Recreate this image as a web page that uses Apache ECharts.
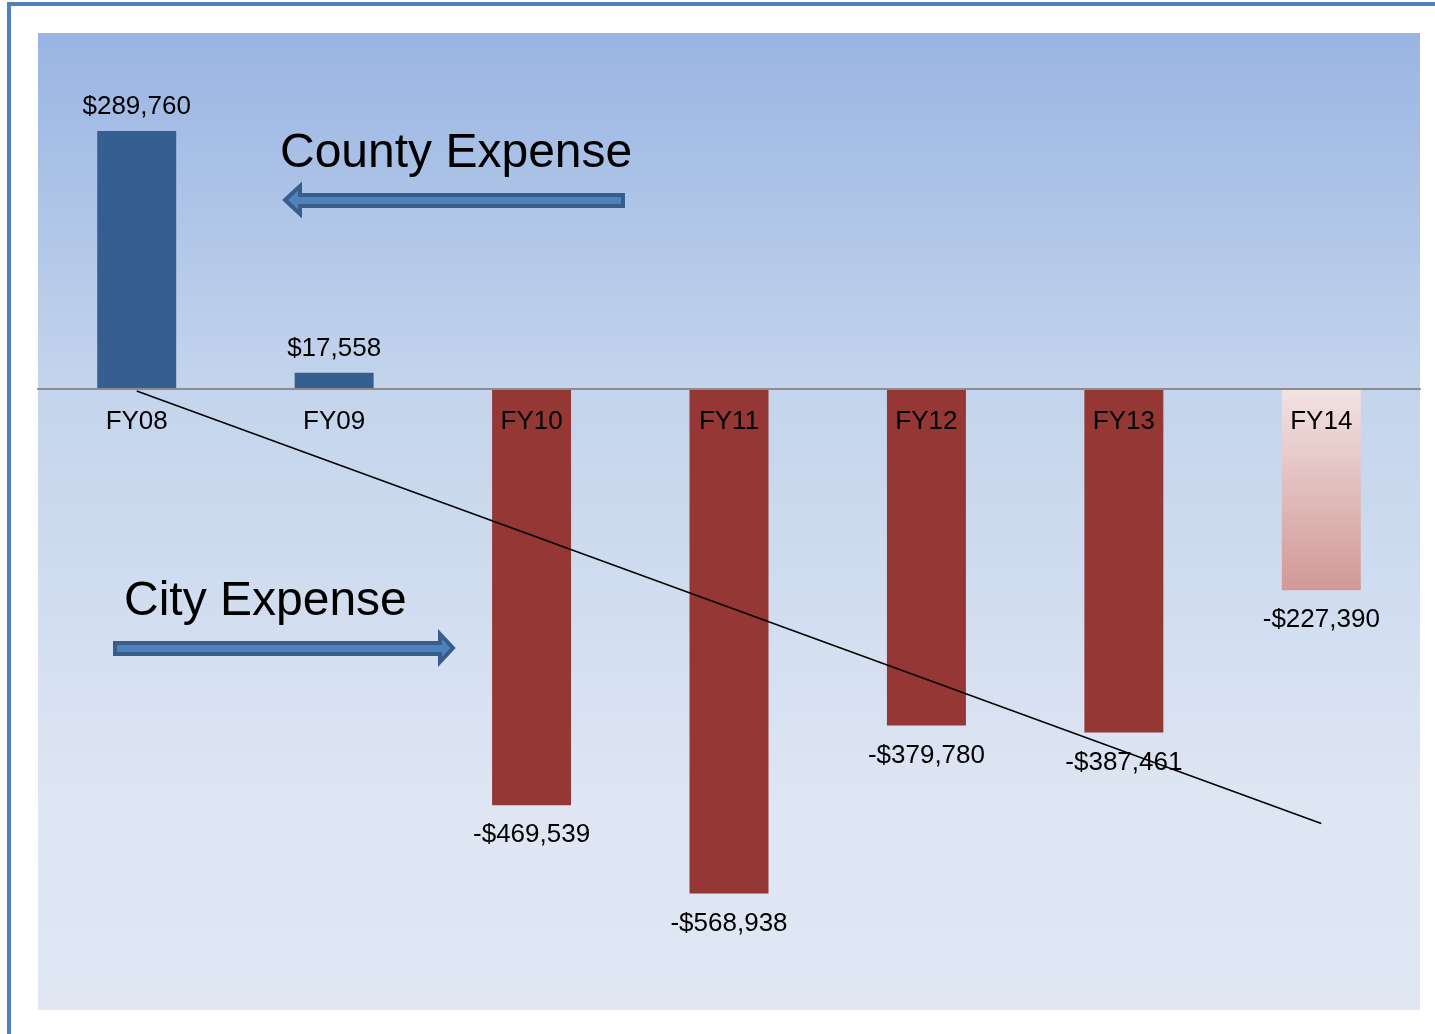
<!DOCTYPE html>
<html>
<head>
<meta charset="utf-8">
<script src="https://cdn.jsdelivr.net/npm/echarts@6/dist/echarts.min.js"></script>
<style>
html,body{margin:0;padding:0;background:#fff;}
#chart{width:1435px;height:1034px;}
</style>
</head>
<body>
<div id="chart"></div>
<script>
const categories = ['FY08','FY09','FY10','FY11','FY12','FY13','FY14'];
const values = [289760, 17558, -469539, -568938, -379780, -387461, -227390];
const valueLabels = ['$289,760','$17,558','-$469,539','-$568,938','-$379,780','-$387,461','-$227,390'];
// trend line end points (FY08 and FY14)
const trendEnds = [-3000, -490000];
const annotations = ['County Expense', 'City Expense'];

const chart = echarts.init(document.getElementById('chart'));
const FONT = '"Liberation Sans", Arial, sans-serif';

function barStyle(v, i) {
  if (i === categories.length - 1) {
    return {
      color: new echarts.graphic.LinearGradient(0, 0, 0, 1, [
        {offset: 0, color: '#f2e3e3'},
        {offset: 1, color: '#d19896'}
      ])
    };
  }
  return {color: v >= 0 ? '#355f91' : '#953735'};
}

const barData = values.map((v, i) => ({
  value: v,
  itemStyle: barStyle(v, i),
  label: {
    show: true,
    position: v >= 0 ? 'top' : 'bottom',
    distance: v >= 0 ? 11 : 17,
    formatter: valueLabels[i],
    fontSize: 26,
    fontFamily: FONT,
    color: '#000'
  }
}));

const trendData = categories.map((c, i) => {
  if (i === 0) return trendEnds[0];
  if (i === categories.length - 1) return trendEnds[1];
  return null;
});

const catLabelData = categories.map((c) => [c, 0]);

const option = {
  animation: false,
  backgroundColor: '#fff',
  grid: {
    left: 38, top: 33, width: 1382, height: 977,
    containLabel: false,
    outerBoundsMode: 'none',
    show: true, borderWidth: 0,
    backgroundColor: new echarts.graphic.LinearGradient(0, 0, 0, 1, [
      {offset: 0, color: '#9ab5e3'},
      {offset: 0.36, color: '#c3d4ec'},
      {offset: 0.8, color: '#dfe6f3'},
      {offset: 1, color: '#e0e7f3'}
    ])
  },
  xAxis: {
    type: 'category',
    data: categories,
    z: 10,
    axisLine: {show: true, onZero: true, lineStyle: {color: '#8c8c8c', width: 2}},
    axisTick: {show: false},
    axisLabel: {show: false},
    splitLine: {show: false}
  },
  yAxis: {
    type: 'value',
    min: -700000,
    max: 400000,
    show: false,
    splitLine: {show: false}
  },
  series: [
    {
      type: 'bar',
      data: barData,
      barWidth: '40%',
      z: 2
    },
    {
      type: 'line',
      data: trendData,
      connectNulls: true,
      symbol: 'none',
      lineStyle: {color: '#000', width: 1.5},
      z: 5
    },
    {
      type: 'scatter',
      data: catLabelData,
      symbol: 'rect',
      symbolSize: 2,
      itemStyle: {color: 'rgba(0,0,0,0)', opacity: 1},
      silent: true,
      z: 6,
      labelLayout: {hideOverlap: false},
      label: {
        show: true,
        position: 'bottom',
        distance: 20,
        formatter: (p) => p.value[0],
        fontSize: 26,
        fontFamily: FONT,
        color: '#000'
      }
    }
  ],
  graphic: [
    {
      type: 'rect',
      z: 100,
      shape: {x: 9, y: 4, width: 1460, height: 1060},
      style: {fill: 'none', stroke: '#4f81bd', lineWidth: 4}
    },
    {
      type: 'text',
      z: 100,
      left: 280, top: 130,
      style: {text: annotations[0], fontSize: 48, fontFamily: FONT, fill: '#000'}
    },
    {
      type: 'text',
      z: 100,
      left: 124, top: 578,
      style: {text: annotations[1], fontSize: 48, fontFamily: FONT, fill: '#000'}
    },
    {
      type: 'polygon',
      z: 100,
      shape: {points: [[285,200],[300,186],[300,195],[623,195],[623,206],[300,206],[300,214]]},
      style: {fill: '#4f81bd', stroke: '#385d8a', lineWidth: 4, lineJoin: 'miter'}
    },
    {
      type: 'polygon',
      z: 100,
      shape: {points: [[115,643],[440,643],[440,634],[453,648],[440,662],[440,654],[115,654]]},
      style: {fill: '#4f81bd', stroke: '#385d8a', lineWidth: 4, lineJoin: 'miter'}
    }
  ]
};
chart.setOption(option);
</script>
</body>
</html>
